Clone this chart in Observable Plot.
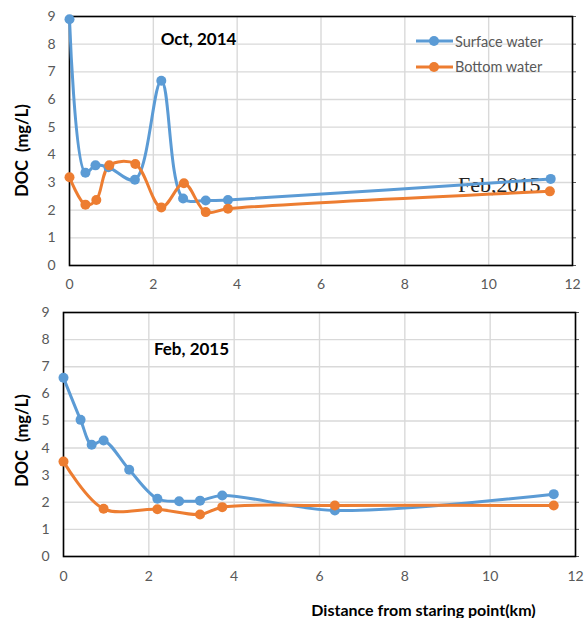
<!DOCTYPE html>
<html><head><meta charset="utf-8">
<script src="https://cdn.jsdelivr.net/npm/d3@7"></script>
<script src="https://cdn.jsdelivr.net/npm/@observablehq/plot@0.6"></script>
<style>
body{margin:0;background:#fff;}
#wrap{position:relative;width:588px;height:618px;font-family:Lato,"Open Sans",sans-serif;background:#fff;}
#top,#bottom{position:absolute;left:0;}
#top{top:0}#bottom{top:290px}
svg text{white-space:pre}
.leg{position:absolute;left:416px;height:16px;display:flex;align-items:center;font-size:14.5px;color:#595959;font-family:Lato,sans-serif;white-space:nowrap}
.leg svg{margin-right:1px}
</style></head>
<body><div id="wrap"><div id="top"></div><div id="bottom"></div></div>
<script>
// ---- data ----
const seriesNames = ["Surface water", "Bottom water"];
const seriesColors = ["#5b9bd5", "#ed7d31"];
const xTicks = [0, 2, 4, 6, 8, 10, 12];
const yTicks = [0, 1, 2, 3, 4, 5, 6, 7, 8, 9];

const octSurfaceX = [0, 0.38, 0.62, 0.93, 1.56, 2.19, 2.71, 3.25, 3.78, 11.48];
const octSurfaceY = [8.9, 3.35, 3.62, 3.55, 3.1, 6.68, 2.42, 2.35, 2.37, 3.13];
const octBottomX = [0, 0.38, 0.64, 0.95, 1.57, 2.19, 2.73, 3.25, 3.78, 11.46];
const octBottomY = [3.19, 2.2, 2.37, 3.62, 3.67, 2.1, 2.97, 1.93, 2.05, 2.68];

const febSurfaceX = [0, 0.4, 0.66, 0.94, 1.54, 2.2, 2.71, 3.2, 3.72, 6.36, 11.49];
const febSurfaceY = [6.59, 5.04, 4.12, 4.28, 3.2, 2.13, 2.04, 2.06, 2.25, 1.7, 2.3];
const febBottomX = [0, 0.94, 2.2, 3.2, 3.72, 6.36, 11.49];
const febBottomY = [3.5, 1.76, 1.74, 1.55, 1.82, 1.88, 1.88];

const topTitle = "Oct, 2014";
const topNote = "Feb,2015";
const bottomTitle = "Feb, 2015";
const yTitle = "DOC  (mg/L)";
const xTitle = "Distance from staring point(km)";

function rows(xs, ys, s) { return xs.map((x, i) => ({x, y: ys[i], series: s})); }

function panel(o) {
  const data = [...rows(o.sx, o.sy, seriesNames[0]), ...rows(o.bx, o.by, seriesNames[1])];
  const marks = [
    Plot.gridX(xTicks, {stroke: "#d9d9d9", strokeOpacity: 1, strokeWidth: 1.4}),
    Plot.gridY(yTicks, {stroke: "#d9d9d9", strokeOpacity: 1, strokeWidth: 1.4}),
    Plot.axisX(xTicks, {tickSize: 0, tickPadding: o.xPad, color: "#595959", fontSize: 14, label: null}),
    Plot.axisY(yTicks, {tickSize: 0, tickPadding: o.yPad, color: "#595959", fontSize: 14, label: null}),
    Plot.axisY(yTicks, {anchor: "right", tickSize: 3, tickFormat: () => "", color: "#595959", label: null}),
    Plot.frame({stroke: "#000", strokeWidth: 1.6}),
    Plot.text([o.title], {frameAnchor: "top-left", dx: o.titleDx, dy: o.titleDy, textAnchor: "middle", lineAnchor: "middle", fontWeight: "bold", fontSize: 17, fill: "#000"}),
    Plot.text([yTitle], {frameAnchor: "left", dx: o.ylDx, dy: o.ylDy, rotate: -90, textAnchor: "middle", lineAnchor: "middle", fontWeight: "bold", fontSize: 16.5, fill: "#000"}),
    ...(o.extra || []),
    Plot.line(data, {x: "x", y: "y", stroke: "series", z: "series", curve: "catmull-rom", strokeWidth: 3}),
    Plot.dot(data, {x: "x", y: "y", fill: "series", r: 5})
  ];
  return Plot.plot({
    width: 588, height: o.height,
    marginTop: o.mt, marginBottom: o.mb, marginLeft: o.ml, marginRight: o.mr,
    style: {fontFamily: "Lato, 'Open Sans', sans-serif", background: "transparent", overflow: "visible"},
    x: {domain: [0, 12], axis: null},
    y: {domain: [0, 9], axis: null},
    color: {domain: seriesNames, range: seriesColors},
    marks
  });
}

document.getElementById("top").append(panel({
  sx: octSurfaceX, sy: octSurfaceY, bx: octBottomX, by: octBottomY,
  height: 298, mt: 16, mb: 33, ml: 69, mr: 16, xPad: 14, yPad: 14,
  title: topTitle, titleDx: 129, titleDy: 23, ylDx: -47, ylDy: 9.5,
  extra: [Plot.text([topNote], {frameAnchor: "top-right", dx: -32, dy: 168, textAnchor: "end", lineAnchor: "middle", fontFamily: "'Liberation Serif', 'Times New Roman', serif", fontSize: 22, fill: "#222"})]
}));

document.getElementById("bottom").append(panel({
  sx: febSurfaceX, sy: febSurfaceY, bx: febBottomX, by: febBottomY,
  height: 328, mt: 22, mb: 62, ml: 63, mr: 13, xPad: 15, yPad: 14,
  title: bottomTitle, titleDx: 128, titleDy: 37, ylDx: -41, ylDy: 6,
  extra: [Plot.text([xTitle], {frameAnchor: "bottom", dx: 104, dy: 54, textAnchor: "middle", lineAnchor: "middle", fontSize: 16, fontWeight: "bold", fill: "#000"})]
}));

// legend (inside the top panel)
const wrap = document.getElementById("wrap");
[41, 66.7].forEach((cy, i) => {
  const d = document.createElement("div");
  d.className = "leg";
  d.style.top = (cy - 8) + "px";
  d.innerHTML = `<svg width="38" height="16"><line x1="0" x2="37" y1="8" y2="8" stroke="${seriesColors[i]}" stroke-width="3"/><circle cx="18" cy="8" r="5" fill="${seriesColors[i]}"/></svg><span>${seriesNames[i]}</span>`;
  wrap.append(d);
});
</script></body></html>
